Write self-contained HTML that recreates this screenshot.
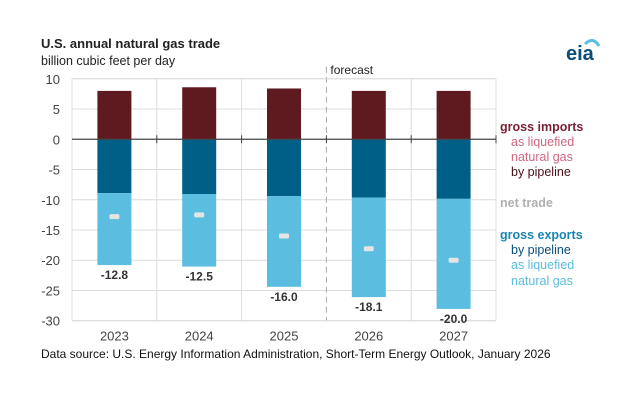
<!DOCTYPE html>
<html><head><meta charset="utf-8"><style>
body{margin:0;background:#fff;font-family:"Liberation Sans",Arial,sans-serif}
svg text{font-family:"Liberation Sans",Arial,sans-serif}
</style></head><body>
<svg id="c" width="634" height="410" viewBox="0 0 634 410">
<rect width="634" height="410" fill="#fff"/>
<text x="41" y="48" font-size="13" font-weight="bold" fill="#222">U.S. annual natural gas trade</text>
<text x="41" y="65" font-size="12.5" fill="#222">billion cubic feet per day</text>
<g>
<text x="566" y="60" font-size="20" font-weight="bold" fill="#0a4d78">eia</text>
<path d="M585 44 q8 -8 14 2" stroke="#5bbde0" stroke-width="3" fill="none"/>
</g>
<g id="grid"></g>
<g id="bars"></g>
<g font-size="12.5">
<text x="500" y="131" font-weight="bold" fill="#7a1f35">gross imports</text>
<text x="511" y="146" fill="#d0677f">as liquefied</text>
<text x="511" y="161" fill="#d0677f">natural gas</text>
<text x="511" y="176" fill="#4a1018">by pipeline</text>
<text x="500" y="207" font-weight="bold" fill="#b0b0b0">net trade</text>
<text x="500" y="239" font-weight="bold" fill="#1a86b0">gross exports</text>
<text x="511" y="254" fill="#0a4d78">by pipeline</text>
<text x="511" y="269" fill="#5bbde0">as liquefied</text>
<text x="511" y="285" fill="#5bbde0">natural gas</text>
</g>
<text x="41" y="358" font-size="12" fill="#111">Data source: U.S. Energy Information Administration, Short-Term Energy Outlook, January 2026</text>
</svg>
<script>
const years=["2023","2024","2025","2026","2027"];
const imports=[8.0,8.6,8.4,8.0,8.0];
const pipelineExports=[8.9,9.05,9.4,9.65,9.85];
const lngExports=[11.9,12.0,15.0,16.45,18.2];
const netTrade=[-12.8,-12.5,-16.0,-18.1,-20.0];
const yTicks=[10,5,0,-5,-10,-15,-20,-25,-30];
const NS="http://www.w3.org/2000/svg";
const L=72,R=496,T=78.8,B=320.7,ymin=-30,ymax=10;
const y=v=>T+(ymax-v)/(ymax-ymin)*(B-T);
const bw=(R-L)/years.length;
const xc=i=>L+bw*(i+0.5);
function mk(tag,at,parent){const e=document.createElementNS(NS,tag);for(const k in at)e.setAttribute(k,at[k]);parent.appendChild(e);return e;}
const g=document.getElementById('grid'),b=document.getElementById('bars');
yTicks.forEach(t=>{
 if(t!==0){const ln=mk('line',{x1:L,x2:R,y1:y(t),y2:y(t),stroke:'#dcdcdc','stroke-width':1},g);
 
 }
 const tx=mk('text',{x:60,y:y(t)+5,'text-anchor':'end','font-size':13,fill:'#444'},g);tx.textContent=t;
 
 
});
for(let i=0;i<=years.length;i++){
 const x=L+bw*i;
 if(i===3){const d=mk('line',{x1:x,x2:x,y1:T-12,y2:B,stroke:'#aaa','stroke-dasharray':'6,4'},g);
  
  }
 else mk('line',{x1:x,x2:x,y1:T,y2:B,stroke:'#dcdcdc'},g);
 mk('line',{x1:x,x2:x,y1:y(0)-4,y2:y(0)+4,stroke:'#444'},g);
}
mk('line',{x1:L,x2:L,y1:T,y2:B,stroke:'#dcdcdc'},g);
mk('line',{x1:L,x2:R,y1:B,y2:B,stroke:'#dcdcdc'},g);
mk('line',{x1:L,x2:R,y1:T,y2:T,stroke:'#dcdcdc'},g);
const fc=mk('text',{x:L+bw*3+4,y:T-5,'font-size':12,fill:'#222'},g);fc.textContent='forecast';


years.forEach((yr,i)=>{
 const x0=xc(i)-17,w=34;
 const r1=mk('rect',{x:x0,y:y(imports[i]),width:w,height:y(0)-y(imports[i]),fill:'#5e1a1f'},b);
 
 
 const pe=-pipelineExports[i];
 const r2=mk('rect',{x:x0,y:y(0),width:w,height:y(pe)-y(0),fill:'#005f86'},b);
 
 
 const te=pe-lngExports[i];
 const r3=mk('rect',{x:x0,y:y(pe),width:w,height:y(te)-y(pe),fill:'#5bbde0'},b);
 
 
 const m=mk('rect',{x:xc(i)-5,y:y(netTrade[i])-2.5,width:10,height:5,rx:1.5,fill:'#e4e4e4'},b);
 
 
 const vl=mk('text',{x:xc(i),y:y(te)+14,'text-anchor':'middle','font-size':12,'font-weight':'bold',fill:'#333'},b);
 vl.textContent=netTrade[i].toFixed(1);
 
 
 const xl=mk('text',{x:xc(i),y:B+20,'text-anchor':'middle','font-size':13,fill:'#444'},b);
 xl.textContent=yr;
 
 
});
mk('line',{x1:L,x2:R,y1:y(0),y2:y(0),stroke:'#444','stroke-width':1.3},b);
</script>
</body></html>
